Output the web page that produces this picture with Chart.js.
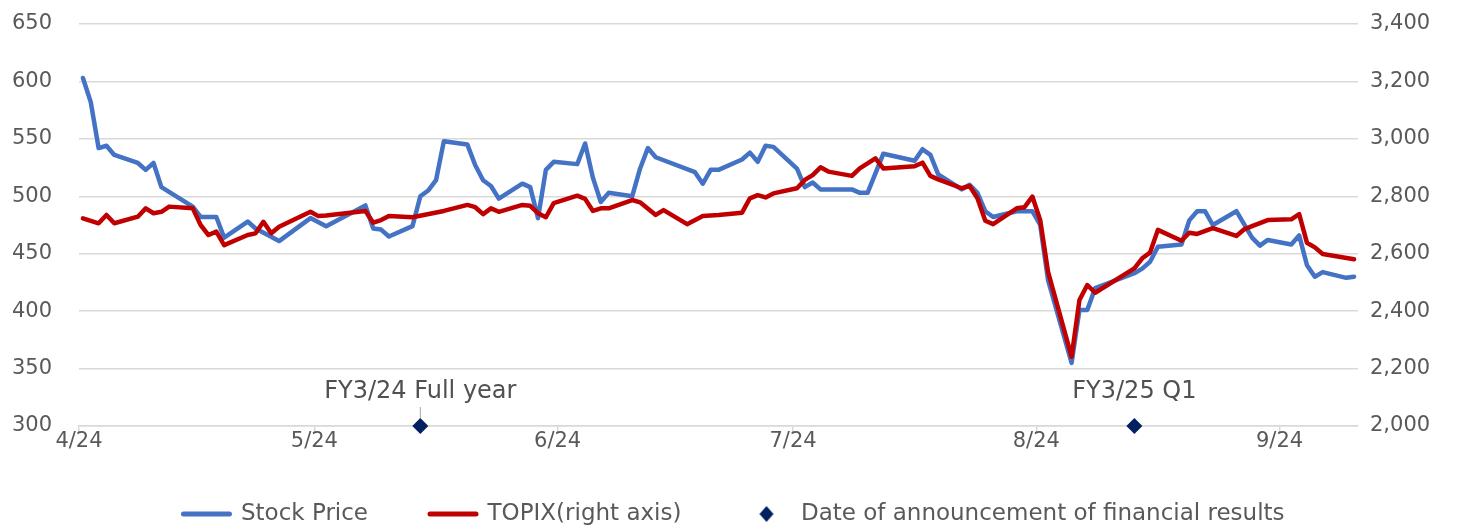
<!DOCTYPE html>
<html>
<head>
<meta charset="utf-8">
<script src="https://cdn.jsdelivr.net/npm/chart.js@4.4.1/dist/chart.umd.min.js"></script>
<style>
  html, body { margin: 0; padding: 0; background: #fff; }
</style>
</head>
<body>
<canvas id="stockChart" width="1468" height="529"></canvas>
<script>
// trading days (2024) where the line bends, and the values read at them
const stockDates = ["4/1","4/2","4/3","4/4","4/5","4/8","4/9","4/10","4/11","4/15","4/16","4/17","4/18","4/19",
  "4/22","4/23","4/26","4/30","5/2","5/7","5/8","5/9","5/10","5/13","5/14","5/15","5/16","5/17","5/20","5/21",
  "5/22","5/23","5/24","5/27","5/28","5/29","5/30","5/31","6/3","6/4","6/5","6/6","6/7","6/10","6/11","6/12",
  "6/13","6/18","6/19","6/20","6/21","6/24","6/25","6/26","6/27","6/28","7/1","7/2","7/3","7/4","7/8","7/9",
  "7/10","7/11","7/12","7/16","7/17","7/18","7/19","7/22","7/23","7/24","7/25","7/26","7/29","7/31","8/1",
  "8/2","8/5","8/6","8/7","8/8","8/13","8/14","8/15","8/16","8/19","8/20","8/21","8/22","8/23","8/26","8/28",
  "8/29","8/30","9/2","9/3","9/4","9/5","9/6","9/9","9/10"];
const stockPrice = [603,582,542,544,536,529,523,529,508,491,482,482,482,464,
  478,472,461,481,474,492,472,471,465,474,500,505,514,548,545,527,
  514,509,498,511,508,481,523,530,528,546,516,495,503,500,524,542,
  534,521,511,523,523,532,538,530,544,543,524,508,512,506,506,503,
  503,520,537,531,541,536,519,506,510,503,487,482,487,487,475,
  427,355,401,401,420,433,437,443,456,458,479,487,487,475,487,464,
  457,462,458,466,440,430,434,429,430];

const topixDates = ["4/1","4/3","4/4","4/5","4/8","4/9","4/10","4/11","4/12","4/15","4/16","4/17","4/18","4/19",
  "4/22","4/23","4/24","4/25","4/26","4/30","5/1","5/2","5/7","5/8","5/9","5/10","5/13","5/17","5/20","5/21",
  "5/22","5/23","5/24","5/27","5/28","5/29","5/30","5/31","6/3","6/4","6/5","6/6","6/7","6/10","6/11","6/13",
  "6/14","6/17","6/19","6/21","6/24","6/25","6/26","6/27","6/28","7/1","7/2","7/3","7/4","7/5","7/8","7/9",
  "7/11","7/12","7/16","7/17","7/18","7/19","7/22","7/23","7/24","7/25","7/26","7/29","7/30","7/31","8/1",
  "8/2","8/5","8/6","8/7","8/8","8/13","8/14","8/15","8/16","8/19","8/20","8/21","8/23","8/26","8/27","8/28",
  "8/30","9/2","9/3","9/4","9/5","9/6","9/10"];
const topixValues = [2723,2706,2735,2706,2729,2758,2741,2746,2764,2758,2700,2665,2677,2630,
  2665,2671,2711,2671,2694,2746,2731,2733,2749,2708,2717,2731,2727,2749,2770,2762,
  2738,2758,2746,2770,2767,2741,2727,2776,2802,2791,2749,2758,2758,2787,2779,2735,
  2752,2703,2731,2735,2743,2793,2804,2796,2810,2828,2857,2874,2901,2886,2871,2897,
  2932,2897,2905,2917,2871,2859,2828,2836,2793,2715,2703,2758,2762,2799,2717,
  2537,2241,2439,2491,2464,2549,2584,2604,2683,2645,2673,2669,2689,2662,2685,2696,
  2717,2720,2738,2638,2622,2599,2581];

const announceDates = ["5/14", "8/13"];
const announceLabels = ["FY3/24 Full year", "FY3/25 Q1"];

const monthTicks = ["4/1", "5/1", "6/1", "7/1", "8/1", "9/1"];
const monthLabels = ["4/24", "5/24", "6/24", "7/24", "8/24", "9/24"];
const axisStart = "4/1";
const axisEnd = "9/11";

const priceMin = 300, priceMax = 650, priceStep = 50;
const topixMin = 2000, topixMax = 3400, topixStep = 200;

const seriesNames = ["Stock Price", "TOPIX(right axis)", "Date of announcement of financial results"];

// day number counted from 4/1
function dayOf(md) {
  const [m, d] = md.split("/").map(Number);
  const [m0, d0] = axisStart.split("/").map(Number);
  return (Date.UTC(2024, m - 1, d) - Date.UTC(2024, m0 - 1, d0)) / 86400000;
}
// Excel date axis puts each point in the middle of its day
const toPoints = (dates, vals) => dates.map((d, i) => ({ x: dayOf(d) + 0.5, y: vals[i] }));

const FONT = "'DejaVu Sans', sans-serif";
const GRID = "#d9d9d9";
const TEXT = "#595959";
const BLUE = "#4472C4";
const RED = "#C00000";
const NAVY = "#002060";

Chart.defaults.font.family = FONT;
Chart.defaults.color = TEXT;

// small diamond image for the legend entry
const diamondIcon = document.createElement("canvas");
diamondIcon.width = 18;
diamondIcon.height = 18;
(() => {
  const c = diamondIcon.getContext("2d");
  c.fillStyle = NAVY;
  c.beginPath();
  c.moveTo(9, 1); c.lineTo(16, 9); c.lineTo(9, 17); c.lineTo(2, 9);
  c.closePath();
  c.fill();
})();

const announceText = {
  id: "announceText",
  afterDatasetsDraw(chart) {
    const ctx = chart.ctx;
    const meta = chart.getDatasetMeta(2);
    ctx.save();
    const first = meta.data[0];
    ctx.strokeStyle = "#a6a6a6";
    ctx.lineWidth = 1;
    ctx.beginPath();
    ctx.moveTo(first.x, first.y - 8);
    ctx.lineTo(first.x, first.y - 19);
    ctx.stroke();
    ctx.font = "24px " + FONT;
    ctx.fillStyle = "#505050";
    ctx.textAlign = "center";
    ctx.textBaseline = "middle";
    meta.data.forEach((pt, i) => {
      ctx.fillText(announceLabels[i], pt.x, pt.y - 34);
    });
    ctx.restore();
  }
};

// keep the plot area where the reference has it
const fixWidth = (w) => (scale) => {
  scale.width = w;
  scale.paddingTop = 0;
  scale.paddingBottom = 0;
};

new Chart(document.getElementById("stockChart"), {
  type: "line",
  data: {
    datasets: [
      {
        label: seriesNames[0],
        data: toPoints(stockDates, stockPrice),
        yAxisID: "y",
        borderColor: BLUE,
        backgroundColor: BLUE,
        borderWidth: 4.5,
        borderJoinStyle: "round",
        borderCapStyle: "round",
        pointRadius: 0,
        tension: 0,
        order: 2
      },
      {
        label: seriesNames[1],
        data: toPoints(topixDates, topixValues),
        yAxisID: "y2",
        borderColor: RED,
        backgroundColor: RED,
        borderWidth: 4.5,
        borderJoinStyle: "round",
        borderCapStyle: "round",
        pointRadius: 0,
        tension: 0,
        order: 1
      },
      {
        label: seriesNames[2],
        data: announceDates.map(d => ({ x: dayOf(d) + 0.5, y: priceMin })),
        yAxisID: "y",
        showLine: false,
        pointStyle: "rectRot",
        pointRadius: 8,
        pointHoverRadius: 8,
        backgroundColor: NAVY,
        borderColor: NAVY,
        borderWidth: 0,
        clip: false,
        order: 0
      }
    ]
  },
  options: {
    responsive: false,
    devicePixelRatio: 1,
    animation: false,
    locale: "en-US",
    layout: { padding: { top: 24, left: 0, right: 0, bottom: 0 } },
    plugins: {
      tooltip: { enabled: false },
      legend: {
        position: "bottom",
        maxHeight: 73,
        // empty title with negative padding pulls the row up, so the
        // wide item spacing does not push the legend row too low
        title: { display: true, text: "", font: { size: 10, lineHeight: 1 }, padding: { top: -25.5, bottom: 0 } },
        labels: {
          usePointStyle: true,
          pointStyleWidth: 46,
          padding: 62,
          color: TEXT,
          font: { size: 23, family: FONT },
          generateLabels: (chart) => {
            const items = Chart.defaults.plugins.legend.labels.generateLabels(chart);
            items.sort((a, b) => a.datasetIndex - b.datasetIndex);
            items.forEach((it) => {
              if (it.datasetIndex < 2) {
                it.pointStyle = "line";
                it.lineWidth = 5;
                it.lineCap = "round";
                it.strokeStyle = it.datasetIndex === 0 ? BLUE : RED;
              } else {
                it.pointStyle = diamondIcon;
              }
            });
            return items;
          }
        }
      }
    },
    scales: {
      x: {
        type: "linear",
        min: dayOf(axisStart),
        max: dayOf(axisEnd),
        afterBuildTicks: (scale) => {
          scale.ticks = monthTicks.map(md => ({ value: dayOf(md) }));
        },
        afterFit: (scale) => { scale.height = 30; },
        grid: {
          drawOnChartArea: false,
          drawTicks: true,
          tickLength: 7,
          color: GRID,
          lineWidth: 1.5
        },
        border: { color: GRID, width: 1.5 },
        ticks: {
          padding: -4,
          maxRotation: 0,
          autoSkip: false,
          font: { size: 21 },
          color: TEXT,
          callback: (v, i) => monthLabels[i]
        }
      },
      y: {
        position: "left",
        min: priceMin,
        max: priceMax,
        afterFit: fixWidth(79),
        grid: { color: GRID, lineWidth: 1.5, drawTicks: false },
        border: { display: false },
        ticks: {
          stepSize: priceStep,
          padding: 27,
          font: { size: 21 },
          color: TEXT
        }
      },
      y2: {
        position: "right",
        min: topixMin,
        max: topixMax,
        afterFit: fixWidth(110),
        grid: { display: false, drawTicks: false },
        border: { display: false },
        ticks: {
          stepSize: topixStep,
          padding: 12,
          font: { size: 21 },
          color: TEXT,
          callback: (v) => v.toLocaleString("en-US")
        }
      }
    }
  },
  plugins: [announceText]
});
</script>
</body>
</html>
